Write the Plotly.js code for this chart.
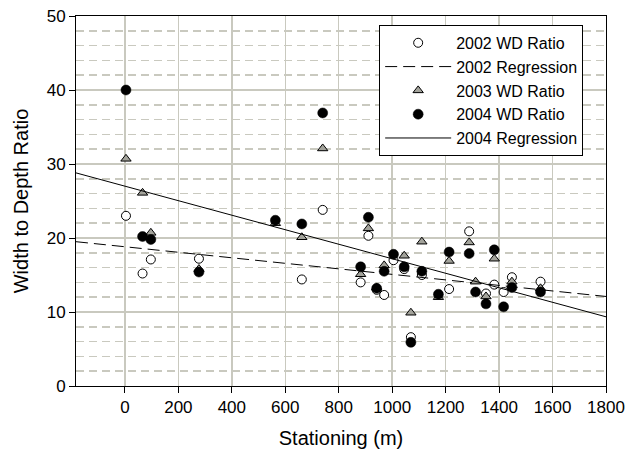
<!DOCTYPE html>
<html>
<head>
<meta charset="utf-8">
<script src="https://cdn.plot.ly/plotly-3.0.1.min.js"></script>
<style>html,body{margin:0;padding:0;background:#fff;}#chart{width:627px;height:458px;}</style>
</head>
<body>
<div id="chart"></div>
<script>
// 2002 WD ratio (open circles)
const x2002 = [4, 66, 97, 277, 662, 740, 882, 911, 942, 970, 1005, 1045, 1070, 1111, 1213, 1288, 1351, 1382, 1417, 1448, 1555];
const y2002 = [23.0, 15.2, 17.1, 17.2, 14.4, 23.8, 14.0, 20.3, 13.0, 12.3, 17.0, 15.8, 6.6, 15.0, 13.1, 20.9, 12.5, 13.7, 12.7, 14.7, 14.1];
// 2003 WD ratio (gray triangles)
const x2003 = [4, 66, 97, 277, 563, 662, 740, 882, 911, 942, 970, 1045, 1070, 1111, 1173, 1213, 1288, 1312, 1351, 1382, 1448, 1555];
const y2003 = [30.7, 26.1, 20.7, 15.8, 22.0, 20.1, 32.1, 15.1, 21.3, 13.3, 16.3, 17.6, 9.9, 19.5, 12.0, 16.9, 19.4, 14.1, 12.1, 17.2, 14.1, 13.2];
// 2004 WD ratio (filled circles)
const x2004 = [4, 66, 97, 277, 563, 662, 740, 882, 911, 942, 970, 1005, 1045, 1070, 1111, 1173, 1213, 1288, 1312, 1351, 1382, 1417, 1448, 1555];
const y2004 = [40.0, 20.2, 19.8, 15.4, 22.4, 21.9, 36.9, 16.1, 22.8, 13.2, 15.5, 17.8, 16.1, 5.9, 15.5, 12.4, 18.1, 17.9, 12.7, 11.1, 18.4, 10.7, 13.3, 12.7];
// Regression lines (end points)
const regX = [-183, 1800];
const reg2002Y = [19.5, 12.1];
const reg2004Y = [28.8, 9.35];
const xTicks = [0, 200, 400, 600, 800, 1000, 1200, 1400, 1600, 1800];
const yTicks = [0, 10, 20, 30, 40, 50];

const FONT = "Liberation Sans, Arial, sans-serif";
const GRID = "#c9c9bf";

const traces = [
  {x: x2002, y: y2002, mode: "markers", name: "2002 WD Ratio", type: "scatter",
   marker: {symbol: "circle", size: 9, color: "#ffffff", line: {color: "#000", width: 1}}},
  {x: regX, y: reg2002Y, mode: "lines", name: "2002 Regression", type: "scatter",
   line: {color: "#000", width: 1, dash: "12px,6px"}},
  {x: x2003, y: y2003, mode: "markers", name: "2003 WD Ratio", type: "scatter",
   marker: {symbol: "triangle-up", size: 9, color: "#a3a39b", line: {color: "#000", width: 1}}},
  {x: x2004, y: y2004, mode: "markers", name: "2004 WD Ratio", type: "scatter",
   marker: {symbol: "circle", size: 10, color: "#000", line: {color: "#000", width: 0.5}}},
  {x: regX, y: reg2004Y, mode: "lines", name: "2004 Regression", type: "scatter",
   line: {color: "#000", width: 1}}
];

const layout = {
  width: 627, height: 458,
  margin: {l: 76, r: 21, t: 16, b: 72},
  paper_bgcolor: "#fff", plot_bgcolor: "#fff",
  font: {family: FONT, size: 17, color: "#000"},
  showlegend: true,
  legend: {x: 0.572, y: 0.976, xanchor: "left", yanchor: "top",
           bgcolor: "#fff", bordercolor: "#000", borderwidth: 1,
           font: {family: FONT, size: 16, color: "#000"},
           itemwidth: 66, tracegroupgap: 0},
  xaxis: {range: [-183, 1800], tickvals: xTicks, ticktext: xTicks.map(String),
          showgrid: true, gridcolor: GRID, gridwidth: 1.5, zeroline: false,
          showline: true, linecolor: "#000", linewidth: 1, mirror: true,
          ticks: "outside", ticklen: 6, tickcolor: "#000",
          tickfont: {family: FONT, size: 17, color: "#000"},
          title: {text: "Stationing (m)", font: {family: FONT, size: 20, color: "#000"}, standoff: 14}},
  yaxis: {range: [0, 50], tickvals: yTicks, ticktext: yTicks.map(String),
          showgrid: true, gridcolor: GRID, gridwidth: 1.5, zeroline: false,
          showline: true, linecolor: "#000", linewidth: 1, mirror: true,
          ticks: "outside", ticklen: 6, tickcolor: "#000",
          tickfont: {family: FONT, size: 17, color: "#000"},
          minor: {dtick: 2, tick0: 0, showgrid: true, gridcolor: GRID, gridwidth: 1.5, griddash: "8px,5px", ticks: ""},
          title: {text: "Width to Depth Ratio", font: {family: FONT, size: 20, color: "#000"}, standoff: 12}}
};

Plotly.newPlot("chart", traces, layout, {displayModeBar: false, staticPlot: true});
</script>
</body>
</html>
